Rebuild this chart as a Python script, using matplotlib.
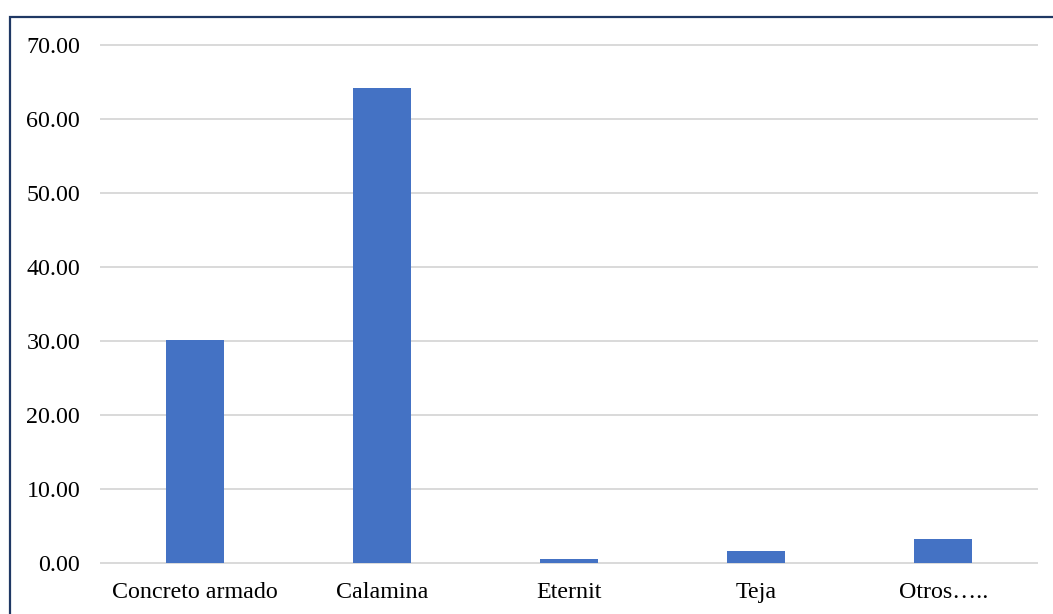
import matplotlib.pyplot as plt
from matplotlib.patches import Rectangle

# Tipo de techo (%)
categorias = ['Concreto armado', 'Calamina', 'Eternit', 'Teja', 'Otros…..']
porcentajes = [30.2, 64.2, 0.5, 1.6, 3.2]

plt.rcParams['font.family'] = ['Liberation Serif', 'DejaVu Serif']

fig = plt.figure(figsize=(10.53, 6.14), dpi=100)
ax = fig.add_axes([101 / 1053, 1 - 563 / 614, 936 / 1053, 518 / 614])

x = range(len(categorias))
ax.bar(x, porcentajes, width=0.31, color='#4472C4', zorder=3)

ax.set_xlim(-0.5, len(categorias) - 0.5)
ax.set_ylim(0, 70)
ax.set_yticks(range(0, 71, 10))
ax.set_yticklabels([f'{v:.2f}' for v in range(0, 71, 10)])
ax.set_xticks(list(x))
ax.set_xticklabels(categorias)

ax.grid(axis='y', color='#D9D9D9', linewidth=1.4, zorder=0)
for gl in ax.get_ygridlines():
    gl.set_clip_on(False)
ax.tick_params(axis='both', length=0, labelsize=17.3, colors='black')
ax.tick_params(axis='y', pad=15)
ax.tick_params(axis='x', pad=14)
for s in ax.spines.values():
    s.set_visible(False)

# marco del grafico
fig.patches.append(Rectangle((9.5 / 1053, -0.1), 1.2, 1 - 16.5 / 614 + 0.1,
                             transform=fig.transFigure, fill=False,
                             edgecolor='#1F3864', linewidth=1.6))

fig.savefig('out.png', dpi=100)
